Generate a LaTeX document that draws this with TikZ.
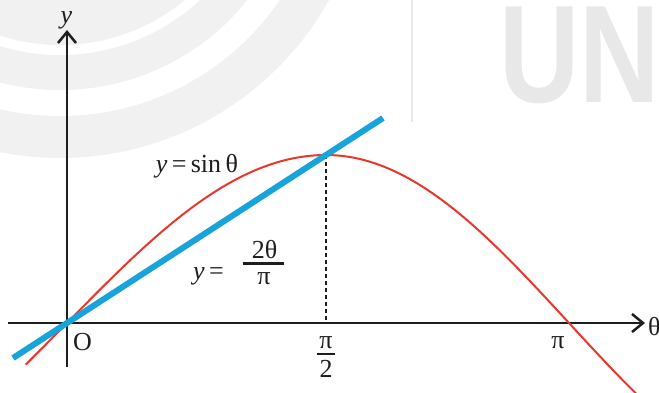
\documentclass[tikz,border=0pt]{standalone}
\usepackage{fontspec}
\setmainfont{Liberation Serif}
\newfontfamily\wmfont{Liberation Sans}
\usetikzlibrary{arrows.meta,calc}
\definecolor{cred}{RGB}{232,55,45}
\definecolor{cblue}{RGB}{24,163,218}
\definecolor{wmgray}{RGB}{241,241,241}
\definecolor{wmtext}{RGB}{232,232,232}
\definecolor{ink}{RGB}{30,30,30}
\begin{document}
\begin{tikzpicture}[x=1pt,y=-1pt,
  lbl/.style={inner sep=0pt, outer sep=0pt, text=ink, font=\fontsize{26}{30}\selectfont},
  axis/.style={draw=ink, line width=2.5pt, -{Straight Barb[length=11pt,width=18pt]}},
  sinecurve/.style={draw=cred, line width=2pt},
  chord/.style={draw=cblue, line width=6pt},
  guide/.style={draw=ink, line width=2pt, dash pattern=on 4pt off 3pt},
  fracbar/.style={draw=ink, line width=2.3pt}]
\useasboundingbox (0,0) rectangle (659,392);
% watermark
\begin{scope}
  \clip (0,0) rectangle (659,392);
  \fill[wmgray] (60,-150) circle[radius=308];
  \fill[white] (60,-150) circle[radius=266];
  \fill[wmgray] (60,-150) circle[radius=240];
  \fill[white] (60,-150) circle[radius=205];
  \fill[wmgray] (60,-150) circle[radius=195];
  \draw[wmtext, line width=1.5pt] (412,0) -- (412,122);
  \node[inner sep=0pt, anchor=base west, text=wmtext, text height=99pt, text depth=0pt] (wm) at (499,102)
    {\scalebox{0.8}[1]{\wmfont\bfseries\fontsize{139}{140}\selectfont UN}};
\end{scope}
% key points
\coordinate (O) at (67,323);
\coordinate (xl) at (8,323);
\coordinate (xr) at (645,323);
\coordinate (yb) at (67,367);
\coordinate (yt) at (67,30);
\coordinate (P) at (326,155);
\coordinate (Pf) at (326,323);
\coordinate (bl) at ($(O)!-0.2085!(P)$);
\coordinate (br) at ($(O)!1.22!(P)$);
% axes
\draw[axis] (xl) -- (xr);
\draw[axis] (yb) -- (yt);
% dashed guide
\draw[guide] (P) -- (Pf);
% sine curve
\draw[sinecurve] plot[domain=-0.25:1.5708, samples=60, smooth] ({67+164.9*\x},{323-168*sin(\x r)})
  -- plot[domain=0:2.03, samples=50, smooth] ({326+154.7*\x},{323-168*cos(\x r)});
% chord line
\draw[chord] (bl) -- (br);
% labels
\node[lbl, anchor=base] (ylab) at (66.5,23) {\textit{y}};
\node[lbl, anchor=base west] (thlab) at (648,335) {θ};
\node[lbl, anchor=base] (Olab) at (82.5,350) {O};
\node[lbl, anchor=base] (pilab) at (558,348) {π};
\node[lbl, anchor=base] (hpinum) at (326,348) {π};
\coordinate (hb1) at (317,354);
\coordinate (hb2) at (335,354);
\draw[fracbar] (hb1) -- (hb2);
\node[lbl, anchor=base] (hpiden) at (326,377) {2};
\node[lbl, anchor=base] (sinlab) at (197,172) {\textit{y}\,=\,sin\,θ};
\node[lbl, anchor=base] (linlab) at (208.5,279) {\textit{y}\,=};
\node[lbl, anchor=base] (fnum) at (264.5,258) {2θ};
\coordinate (fb1) at (243,263.5);
\coordinate (fb2) at (284,263.5);
\draw[fracbar] (fb1) -- (fb2);
\node[lbl, anchor=base] (fden) at (264,284) {π};
\end{tikzpicture}
\end{document}
